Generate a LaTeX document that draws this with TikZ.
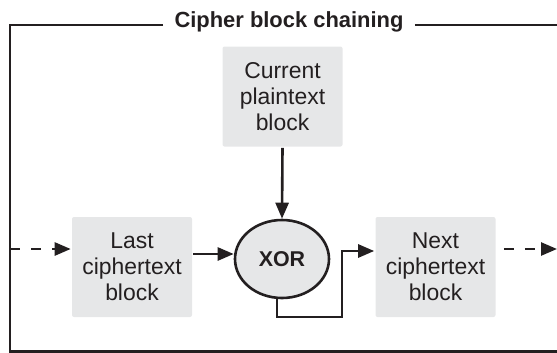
\documentclass[tikz,border=0pt]{standalone}
\usepackage{fontspec}
\setmainfont{Liberation Sans}
\usetikzlibrary{arrows.meta,shapes.geometric}
\definecolor{boxgray}{HTML}{E6E7E8}
\definecolor{ink}{HTML}{231F20}
\begin{document}
\begin{tikzpicture}[
  line width=2.6bp, draw=ink,
  block/.style={fill=boxgray,rounded corners=2bp,minimum width=120bp,minimum height=100bp,
    inner sep=0pt,align=center,text=ink,font=\fontsize{23}{26}\selectfont},
  xorgate/.style={draw=ink,ellipse,fill=boxgray,minimum width=94bp,minimum height=78bp,
    inner sep=0pt,text=ink,font=\fontsize{21.5}{24}\selectfont\bfseries},
  arr/.style={-{Triangle[length=16bp,width=13bp]},draw=ink},
  dasharr/.style={arr,dash pattern=on 10bp off 11bp}]
\useasboundingbox (0,0) rectangle (557bp,-353bp);

\node (Title) at (289bp,-27bp)[anchor=base,inner xsep=10bp,text=ink,font=\fontsize{22}{24}\selectfont\bfseries] {Cipher block chaining};
\node (Plain) at (282.5bp,-96.5bp)[block] {Current\\plaintext\\block};
\node (Last) at (132bp,-267bp)[block] {Last\\ciphertext\\block};
\node (Next) at (435.5bp,-267bp)[block] {Next\\ciphertext\\block};
\node (XOR) at (282bp,-259bp)[xorgate] {XOR};

\coordinate (TL) at (10bp,-25bp);
\coordinate (BL) at (10bp,-351.5bp);
\coordinate (BR) at (557bp,-351.5bp);
\coordinate (TR) at (557bp,-25bp);
\coordinate (In) at (10bp,-249bp);
\coordinate (Out) at (557bp,-249bp);
\coordinate (Turn) at (342bp,-317bp);

% frame
\draw (Title.west |- TL) -- (TL) -- (BL) -- (BR);
\draw (Title.east |- TL) -- (TR);

% chaining
\draw [dasharr] (In) -- (In -| Last.west);
\draw [arr] (Last.east |- 0,-254bp) -- (XOR.west |- 0,-254bp);
\draw [arr] (Plain.south) -- (XOR.north);
\draw [arr] ([xshift=-5bp]XOR.south) |- (Turn) |- ([yshift=16bp]Next.west);
\draw [dasharr] ([xshift=7bp]Next.east |- Out) -- (Out);
\end{tikzpicture}
\end{document}
